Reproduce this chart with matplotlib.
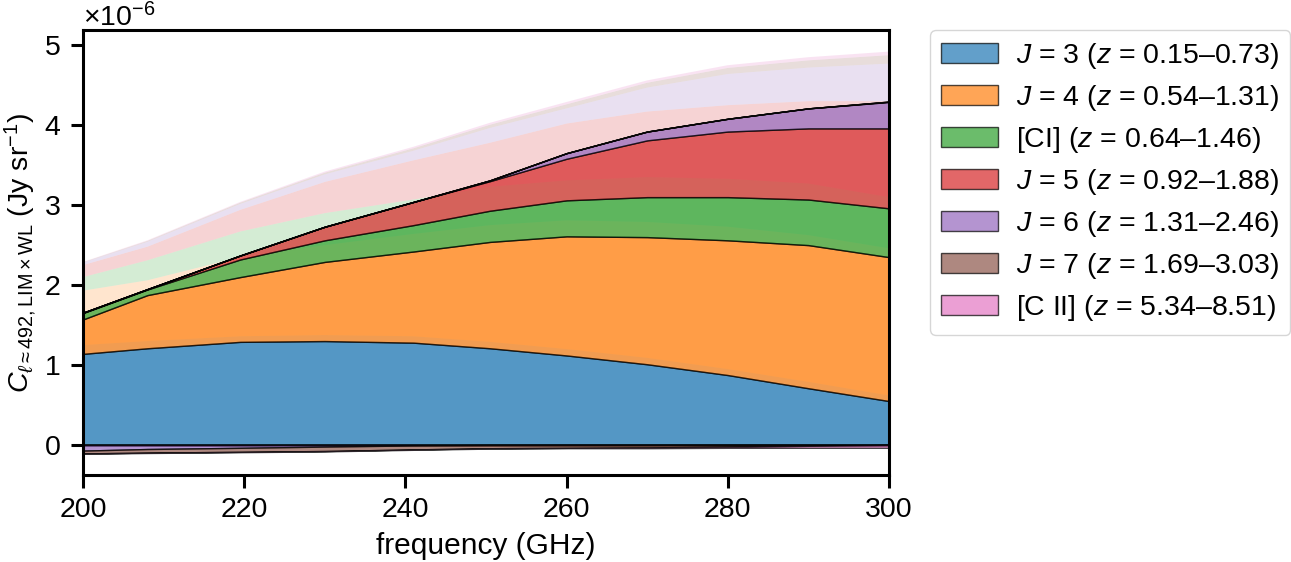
import numpy as np
import matplotlib.pyplot as plt

plt.rcParams['font.family'] = ['Liberation Sans', 'DejaVu Sans']
plt.rcParams['mathtext.fontset'] = 'custom'
plt.rcParams['mathtext.rm'] = 'Liberation Sans'
plt.rcParams['mathtext.it'] = 'Liberation Sans:italic'
plt.rcParams['font.size'] = 20.5

# frequency grid (GHz)
freq = [200, 208, 219.5, 230, 241, 250.5, 260, 270, 280, 290, 300]

# cross-spectrum contributions, units of 1e-6 Jy/sr (solid stack)
co32 = [1.14, 1.21, 1.29, 1.30, 1.28, 1.21, 1.12, 1.01, 0.875, 0.71, 0.55]
co43 = [0.43, 0.665, 0.81, 0.99, 1.14, 1.33, 1.49, 1.59, 1.685, 1.79, 1.80]
ci = [0.08, 0.07, 0.22, 0.27, 0.33, 0.39, 0.45, 0.50, 0.54, 0.57, 0.61]
co54 = [0.005, 0.005, 0.05, 0.17, 0.29, 0.37, 0.52, 0.71, 0.82, 0.89, 1.00]
co65 = [-0.07, -0.05, -0.035, -0.02, -0.005, 0.01, 0.07, 0.11, 0.16, 0.25, 0.33]
co76 = [-0.035, -0.045, -0.05, -0.055, -0.05, -0.04, -0.035, -0.03, -0.02, -0.01, 0.005]
cii = [-0.005, -0.005, -0.005, -0.005, -0.005, -0.005, -0.005, -0.01, -0.015, -0.025, -0.035]

# faint stack (shaded background)
co32_f = [1.25, 1.30, 1.36, 1.375, 1.36, 1.29, 1.20, 1.09, 0.95, 0.79, 0.62]
co43_f = [0.68, 0.76, 0.99, 1.125, 1.28, 1.46, 1.61, 1.70, 1.78, 1.835, 1.84]
ci_f = [0.17, 0.25, 0.32, 0.40, 0.43, 0.48, 0.50, 0.56, 0.60, 0.645, 0.64]
co54_f = [0.15, 0.17, 0.27, 0.39, 0.49, 0.55, 0.71, 0.82, 0.92, 1.03, 1.20]
co65_f = [0.03, 0.062, 0.075, 0.095, 0.12, 0.185, 0.19, 0.30, 0.39, 0.42, 0.47]
co76_f = [0.005, 0.01, 0.015, 0.02, 0.03, 0.04, 0.05, 0.06, 0.075, 0.09, 0.105]
cii_f = [0.005, 0.008, 0.01, 0.015, 0.02, 0.025, 0.03, 0.03, 0.035, 0.04, 0.045]

labels = [r'$J$ = 3 ($z$ = 0.15–0.73)',
          r'$J$ = 4 ($z$ = 0.54–1.31)',
          r'[CI] ($z$ = 0.64–1.46)',
          r'$J$ = 5 ($z$ = 0.92–1.88)',
          r'$J$ = 6 ($z$ = 1.31–2.46)',
          r'$J$ = 7 ($z$ = 1.69–3.03)',
          r'[C II] ($z$ = 5.34–8.51)']
colors = ['tab:blue', 'tab:orange', 'tab:green', 'tab:red', 'tab:purple', 'tab:brown', 'tab:pink']

solid = [co32, co43, ci, co54, co65, co76, cii]
faint = [co32_f, co43_f, ci_f, co54_f, co65_f, co76_f, cii_f]


def stack(ax, x, comps, with_labels, **kw):
    # positive parts go up from zero, negative parts go down
    pos_base = np.zeros(len(x))
    neg_base = np.zeros(len(x))
    for i, vals in enumerate(comps):
        v = np.array(vals)
        p = np.clip(v, 0, None)
        n = np.clip(v, None, 0)
        lab = labels[i] if with_labels else None
        ax.fill_between(x, pos_base * 1e-6, (pos_base + p) * 1e-6,
                        facecolor=colors[i], label=lab, **kw)
        ax.fill_between(x, (neg_base + n) * 1e-6, neg_base * 1e-6,
                        facecolor=colors[i], **kw)
        pos_base += p
        neg_base += n


fig = plt.figure(figsize=(12.91, 5.62), dpi=100)
ax = fig.add_axes([83 / 1291, 87 / 562, 806 / 1291, 445 / 562])

stack(ax, freq, faint, False, alpha=0.2, linewidth=0, zorder=1)
stack(ax, freq, solid, True, alpha=0.7, edgecolor='k', linewidth=1, zorder=2)

ax.set_xlim(200, 300)
ax.set_ylim(-0.375e-6, 5.19e-6)
ax.set_xticks([200, 220, 240, 260, 280, 300])
ax.set_yticks(np.arange(0, 6) * 1e-6)
ax.ticklabel_format(axis='y', style='sci', scilimits=(0, 0), useMathText=True)
ax.set_xlabel('frequency (GHz)', labelpad=6, fontsize=21.5)
ax.set_ylabel(r'$C_{\ell\approx 492,\mathrm{LIM}\times\mathrm{WL}}$ (Jy sr$^{-1}$)')

for s in ax.spines.values():
    s.set_linewidth(2.2)
ax.tick_params(direction='out', length=9, width=2.2, pad=7)

ax.legend(loc='upper left', bbox_to_anchor=(1.051, 1.0), borderaxespad=0,
          labelspacing=0.42, handletextpad=0.6, fontsize=20.5)

fig.savefig('out.png', dpi=100)
